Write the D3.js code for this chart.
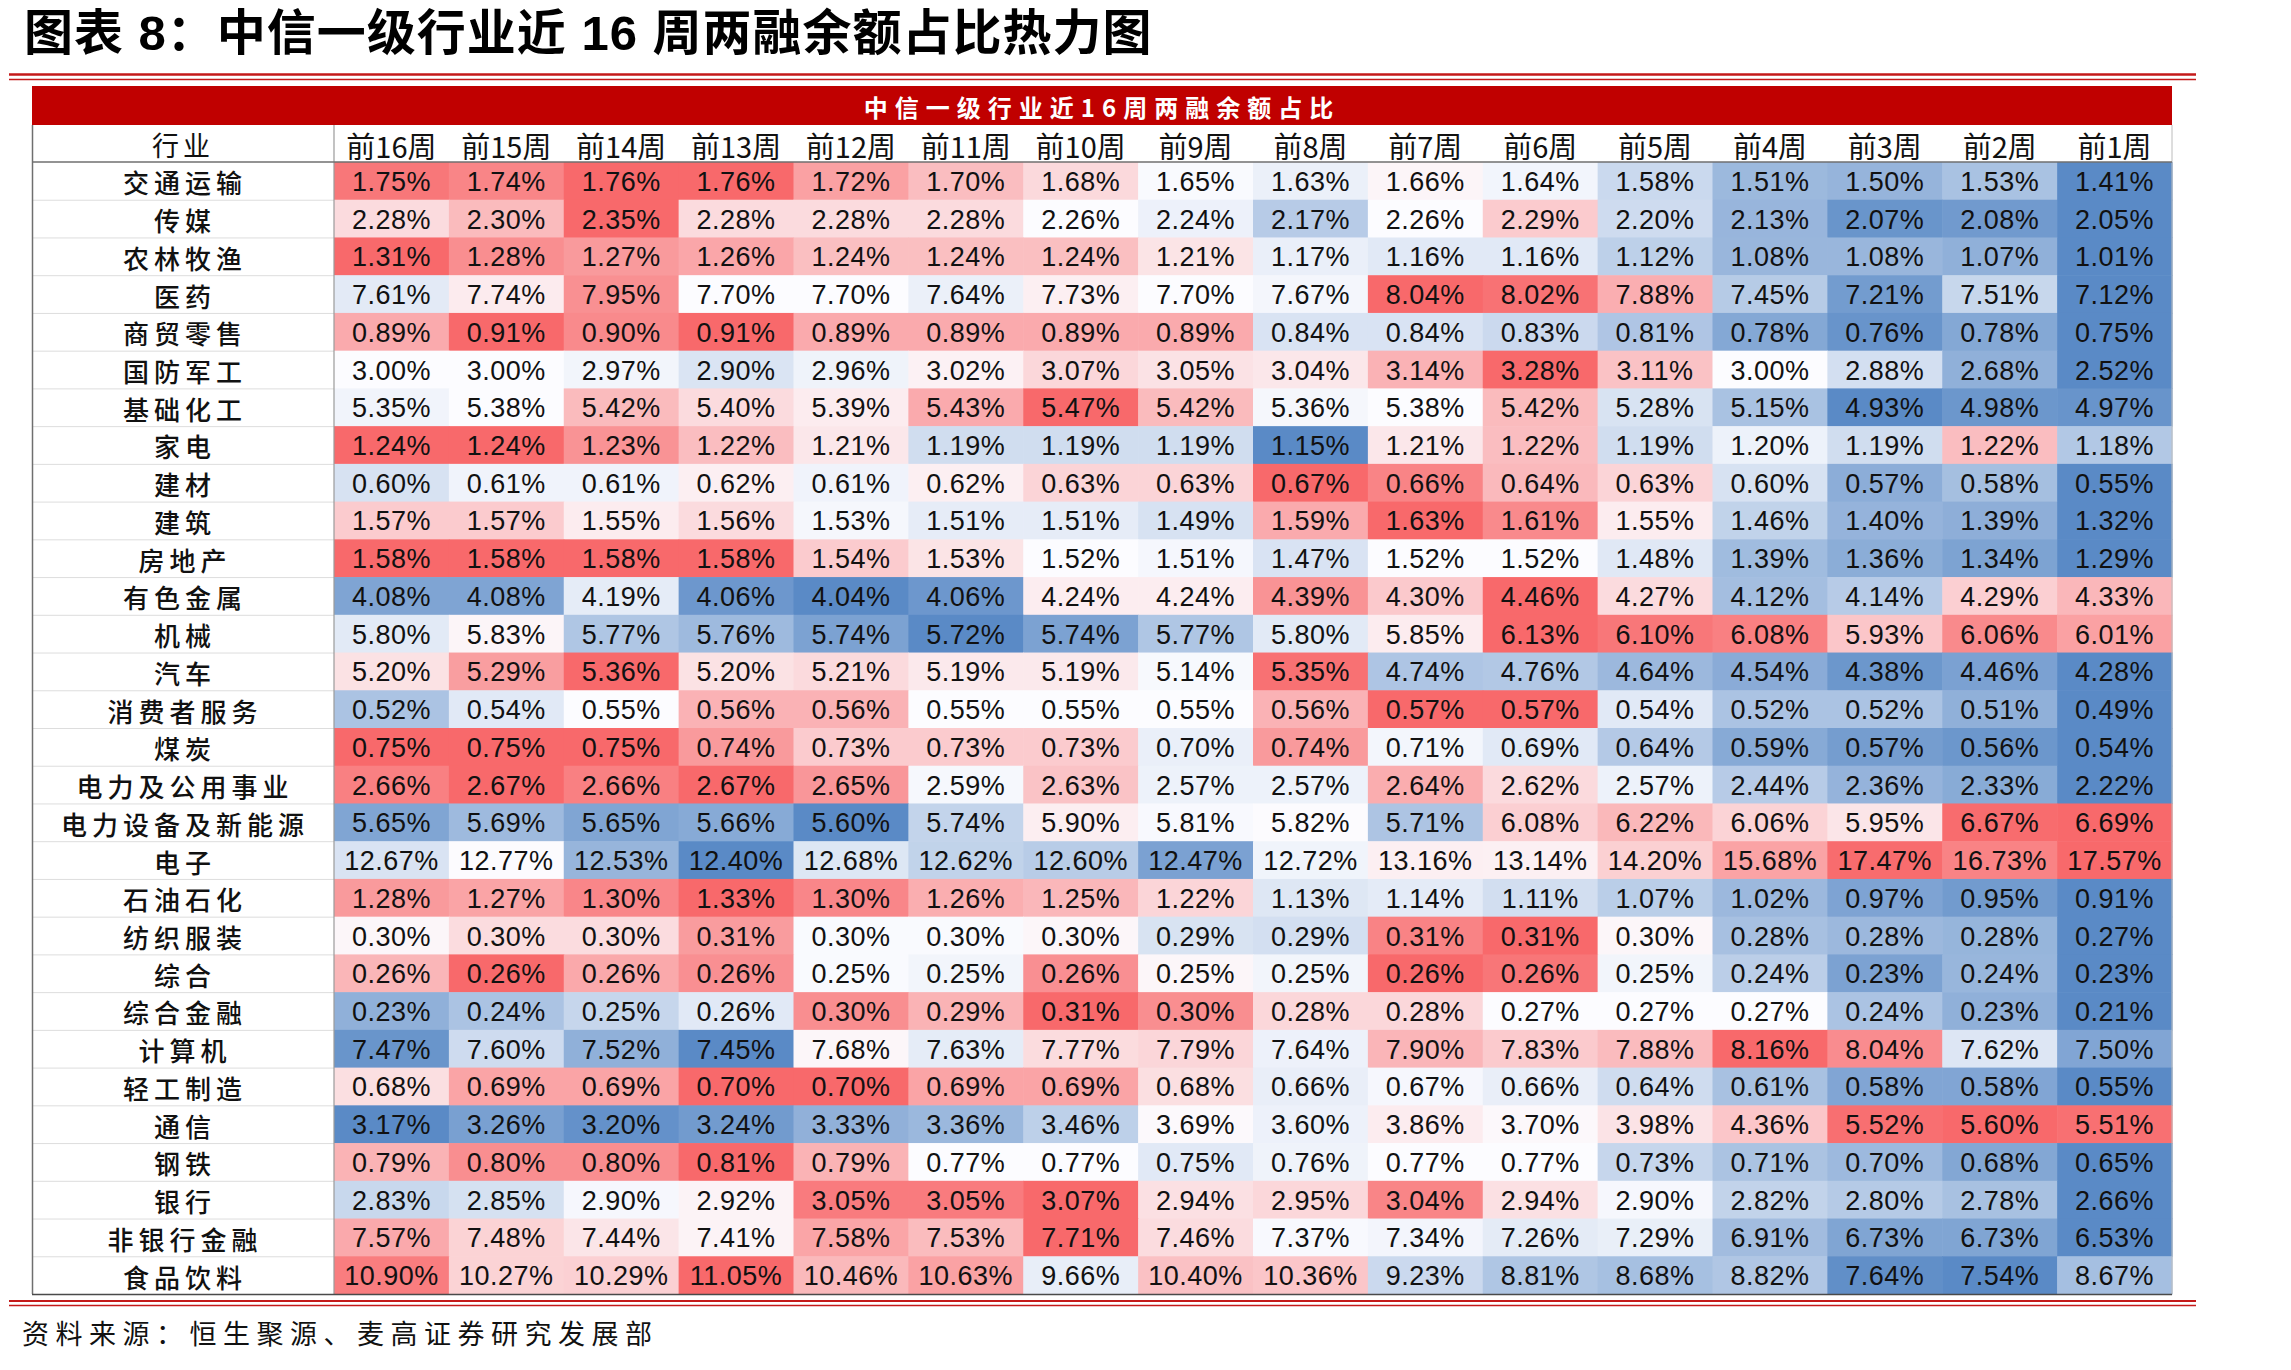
<!DOCTYPE html>
<html><head><meta charset="utf-8">
<script src="https://cdn.jsdelivr.net/npm/d3@7"></script>
<style>
html,body{margin:0;padding:0;background:#fff;}
svg{display:block;}
</style></head><body>
<svg id="chart" width="2291" height="1370"></svg>
<script>
const titleText = "图表 8：中信一级行业近 16 周两融余额占比热力图";
const bandTitle = "中信一级行业近16周两融余额占比";
const sourceText = "资料来源：恒生聚源、麦高证券研究发展部";
const headerLabel = "行业";
const weeks = ["前16周","前15周","前14周","前13周","前12周","前11周","前10周","前9周","前8周","前7周","前6周","前5周","前4周","前3周","前2周","前1周"];
const industries = ["交通运输","传媒","农林牧渔","医药","商贸零售","国防军工","基础化工","家电","建材","建筑","房地产","有色金属","机械","汽车","消费者服务","煤炭","电力及公用事业","电力设备及新能源","电子","石油石化","纺织服装","综合","综合金融","计算机","轻工制造","通信","钢铁","银行","非银行金融","食品饮料"];

const jiaotong   = [1.75,1.74,1.76,1.76,1.72,1.70,1.68,1.65,1.63,1.66,1.64,1.58,1.51,1.50,1.53,1.41];
const chuanmei   = [2.28,2.30,2.35,2.28,2.28,2.28,2.26,2.24,2.17,2.26,2.29,2.20,2.13,2.07,2.08,2.05];
const nonglin    = [1.31,1.28,1.27,1.26,1.24,1.24,1.24,1.21,1.17,1.16,1.16,1.12,1.08,1.08,1.07,1.01];
const yiyao      = [7.61,7.74,7.95,7.70,7.70,7.64,7.73,7.70,7.67,8.04,8.02,7.88,7.45,7.21,7.51,7.12];
const shangmao   = [0.89,0.91,0.90,0.91,0.89,0.89,0.89,0.89,0.84,0.84,0.83,0.81,0.78,0.76,0.78,0.75];
const guofang    = [3.00,3.00,2.97,2.90,2.96,3.02,3.07,3.05,3.04,3.14,3.28,3.11,3.00,2.88,2.68,2.52];
const jichuhua   = [5.35,5.38,5.42,5.40,5.39,5.43,5.47,5.42,5.36,5.38,5.42,5.28,5.15,4.93,4.98,4.97];
const jiadian    = [1.24,1.24,1.23,1.22,1.21,1.19,1.19,1.19,1.15,1.21,1.22,1.19,1.20,1.19,1.22,1.18];
const jiancai    = [0.60,0.61,0.61,0.62,0.61,0.62,0.63,0.63,0.67,0.66,0.64,0.63,0.60,0.57,0.58,0.55];
const jianzhu    = [1.57,1.57,1.55,1.56,1.53,1.51,1.51,1.49,1.59,1.63,1.61,1.55,1.46,1.40,1.39,1.32];
const fangdichan = [1.58,1.58,1.58,1.58,1.54,1.53,1.52,1.51,1.47,1.52,1.52,1.48,1.39,1.36,1.34,1.29];
const youse      = [4.08,4.08,4.19,4.06,4.04,4.06,4.24,4.24,4.39,4.30,4.46,4.27,4.12,4.14,4.29,4.33];
const jixie      = [5.80,5.83,5.77,5.76,5.74,5.72,5.74,5.77,5.80,5.85,6.13,6.10,6.08,5.93,6.06,6.01];
const qiche      = [5.20,5.29,5.36,5.20,5.21,5.19,5.19,5.14,5.35,4.74,4.76,4.64,4.54,4.38,4.46,4.28];
const xiaofei    = [0.52,0.54,0.55,0.56,0.56,0.55,0.55,0.55,0.56,0.57,0.57,0.54,0.52,0.52,0.51,0.49];
const meitan     = [0.75,0.75,0.75,0.74,0.73,0.73,0.73,0.70,0.74,0.71,0.69,0.64,0.59,0.57,0.56,0.54];
const dianligy   = [2.66,2.67,2.66,2.67,2.65,2.59,2.63,2.57,2.57,2.64,2.62,2.57,2.44,2.36,2.33,2.22];
const dianshebei = [5.65,5.69,5.65,5.66,5.60,5.74,5.90,5.81,5.82,5.71,6.08,6.22,6.06,5.95,6.67,6.69];
const dianzi     = [12.67,12.77,12.53,12.40,12.68,12.62,12.60,12.47,12.72,13.16,13.14,14.20,15.68,17.47,16.73,17.57];
const shiyou     = [1.28,1.27,1.30,1.33,1.30,1.26,1.25,1.22,1.13,1.14,1.11,1.07,1.02,0.97,0.95,0.91];
const fangzhi    = [0.300,0.302,0.302,0.307,0.299,0.299,0.300,0.293,0.292,0.309,0.311,0.300,0.284,0.282,0.281,0.270];
const zonghe     = [0.257,0.263,0.258,0.260,0.251,0.250,0.260,0.252,0.250,0.263,0.262,0.250,0.242,0.233,0.237,0.228];
const zongjinrong= [0.23,0.24,0.25,0.26,0.30,0.29,0.31,0.30,0.28,0.28,0.27,0.27,0.27,0.24,0.23,0.21];
const jisuanji   = [7.47,7.60,7.52,7.45,7.68,7.63,7.77,7.79,7.64,7.90,7.83,7.88,8.16,8.04,7.62,7.50];
const qinggong   = [0.68,0.69,0.69,0.70,0.70,0.69,0.69,0.68,0.66,0.67,0.66,0.64,0.61,0.58,0.58,0.55];
const tongxin    = [3.17,3.26,3.20,3.24,3.33,3.36,3.46,3.69,3.60,3.86,3.70,3.98,4.36,5.52,5.60,5.51];
const gangtie    = [0.79,0.80,0.80,0.81,0.79,0.77,0.77,0.75,0.76,0.77,0.77,0.73,0.71,0.70,0.68,0.65];
const yinhang    = [2.83,2.85,2.90,2.92,3.05,3.05,3.07,2.94,2.95,3.04,2.94,2.90,2.82,2.80,2.78,2.66];
const feiyin     = [7.57,7.48,7.44,7.41,7.58,7.53,7.71,7.46,7.37,7.34,7.26,7.29,6.91,6.73,6.73,6.53];
const shipin     = [10.90,10.27,10.29,11.05,10.46,10.63,9.66,10.40,10.36,9.23,8.81,8.68,8.82,7.64,7.54,8.67];

const series = [jiaotong,chuanmei,nonglin,yiyao,shangmao,guofang,jichuhua,jiadian,jiancai,jianzhu,fangdichan,youse,jixie,qiche,xiaofei,meitan,dianligy,dianshebei,dianzi,shiyou,fangzhi,zonghe,zongjinrong,jisuanji,qinggong,tongxin,gangtie,yinhang,feiyin,shipin];

const svg = d3.select("#chart");
const CJK = "'Noto Sans CJK SC', sans-serif";
const NUM = "'Liberation Sans', Arial, sans-serif";

const tableL = 32, tableR = 2172, labelR = 334;
const bandT = 86, headT = 125, rowsT = 162, rowsB = 1294;

// Title (Latin-metric primary font keeps the text box inside the page)
svg.append("text").attr("x", 24).attr("y", 33)
  .attr("dominant-baseline", "central")
  .style("font-family", "'Liberation Sans', 'Noto Sans CJK SC', sans-serif")
  .style("font-size", "49px").style("font-weight", 700)
  .style("letter-spacing", "1px").attr("fill", "#000").text(titleText);

// top double line
const red = "#c41a1a";
svg.append("line").attr("x1", 9).attr("x2", 2196).attr("y1", 74.5).attr("y2", 74.5).attr("stroke", red).attr("stroke-width", 2.5);
svg.append("line").attr("x1", 9).attr("x2", 2196).attr("y1", 79.5).attr("y2", 79.5).attr("stroke", red).attr("stroke-width", 1.5);

// red band
svg.append("rect").attr("x", tableL).attr("y", bandT).attr("width", tableR - tableL).attr("height", headT - bandT).attr("fill", "#c00000");
svg.append("text").attr("x", (tableL + tableR) / 2).attr("y", (bandT + headT) / 2 + 1)
  .attr("text-anchor", "middle").attr("dominant-baseline", "central")
  .style("font-family", CJK).style("font-size", "24px").style("font-weight", 700)
  .style("letter-spacing", "7px").attr("fill", "#fff").text(bandTitle);

// scales
const x = d3.scaleBand().domain(weeks).range([labelR, tableR]);
const y = d3.scaleBand().domain(industries).range([rowsT, rowsB]);

// header
const head = svg.append("g");
head.append("text").attr("x", (tableL + labelR) / 2).attr("y", (headT + rowsT) / 2 + 1)
  .attr("text-anchor", "middle").attr("dominant-baseline", "central")
  .style("font-family", CJK).style("font-size", "27px").style("letter-spacing", "4px")
  .attr("fill", "#111").text(headerLabel);
head.selectAll("text.wk").data(weeks).join("text").attr("class", "wk")
  .attr("x", d => x(d) + x.bandwidth() / 2).attr("y", (headT + rowsT) / 2 + 1)
  .attr("text-anchor", "middle").attr("dominant-baseline", "central")
  .style("font-family", CJK).style("font-size", "29px")
  .attr("fill", "#111").text(d => d);

// cells
const rows = svg.append("g").selectAll("g").data(industries).join("g")
  .attr("transform", d => `translate(0,${y(d)})`);

rows.each(function(ind, i) {
  const vals = series[i];
  const sorted = vals.slice().sort(d3.ascending);
  const mn = sorted[0], mx = sorted[sorted.length - 1], md = d3.quantile(sorted, 0.5);
  const color = d3.scaleLinear().domain([mn, md, mx]).range(["#5A8AC6", "#FCFCFF", "#F8696B"]).interpolate(d3.interpolateRgb);
  const g = d3.select(this);
  const cells = vals.map((v, j) => ({ v, w: weeks[j] }));
  g.selectAll("rect").data(cells).join("rect")
    .attr("x", d => x(d.w)).attr("y", 0)
    .attr("width", x.bandwidth() + 0.6).attr("height", y.bandwidth() + 0.6)
    .attr("fill", d => color(d.v));
  g.selectAll("text.val").data(cells).join("text").attr("class", "val")
    .attr("x", d => x(d.w) + x.bandwidth() / 2).attr("y", y.bandwidth() / 2 + 1)
    .attr("text-anchor", "middle").attr("dominant-baseline", "central")
    .style("font-family", NUM).style("font-size", "27px").style("letter-spacing", "0.5px")
    .attr("fill", "#111").text(d => d.v.toFixed(2) + "%");
  g.append("text")
    .attr("x", (tableL + labelR) / 2 + 2).attr("y", y.bandwidth() / 2 + 1)
    .attr("text-anchor", "middle").attr("dominant-baseline", "central")
    .style("font-family", CJK).style("font-size", "26px").style("font-weight", 500).style("letter-spacing", "5px")
    .attr("fill", "#111").text(ind);
});

// label column row separators
svg.append("g").selectAll("line").data(industries.slice(1)).join("line")
  .attr("x1", tableL).attr("x2", labelR)
  .attr("y1", d => y(d) + 0.5).attr("y2", d => y(d) + 0.5)
  .attr("stroke", "#dddddd").attr("stroke-width", 1);

// borders
svg.append("line").attr("x1", tableL + 0.5).attr("x2", tableL + 0.5).attr("y1", headT).attr("y2", rowsB).attr("stroke", "#6f6f6f").attr("stroke-width", 1.5);
svg.append("line").attr("x1", labelR).attr("x2", labelR).attr("y1", headT).attr("y2", rowsB).attr("stroke", "#9a9a9a").attr("stroke-width", 1.2);
svg.append("line").attr("x1", tableR).attr("x2", tableR).attr("y1", headT).attr("y2", rowsB).attr("stroke", "#bcbcbc").attr("stroke-width", 1);
svg.append("line").attr("x1", tableL).attr("x2", tableR).attr("y1", rowsT).attr("y2", rowsT).attr("stroke", "#6f6f6f").attr("stroke-width", 1.5);
svg.append("line").attr("x1", tableL).attr("x2", tableR).attr("y1", rowsB + 0.5).attr("y2", rowsB + 0.5).attr("stroke", "#4a4a4a").attr("stroke-width", 1.5);

// bottom double line
svg.append("line").attr("x1", 9).attr("x2", 2196).attr("y1", 1301).attr("y2", 1301).attr("stroke", red).attr("stroke-width", 2);
svg.append("line").attr("x1", 9).attr("x2", 2196).attr("y1", 1305.5).attr("y2", 1305.5).attr("stroke", red).attr("stroke-width", 1.5);

// source
svg.append("text").attr("x", 22).attr("y", 1332)
  .attr("dominant-baseline", "central")
  .style("font-family", CJK).style("font-size", "27px").style("letter-spacing", "6.5px")
  .attr("fill", "#111").text(sourceText);
</script>
</body></html>
